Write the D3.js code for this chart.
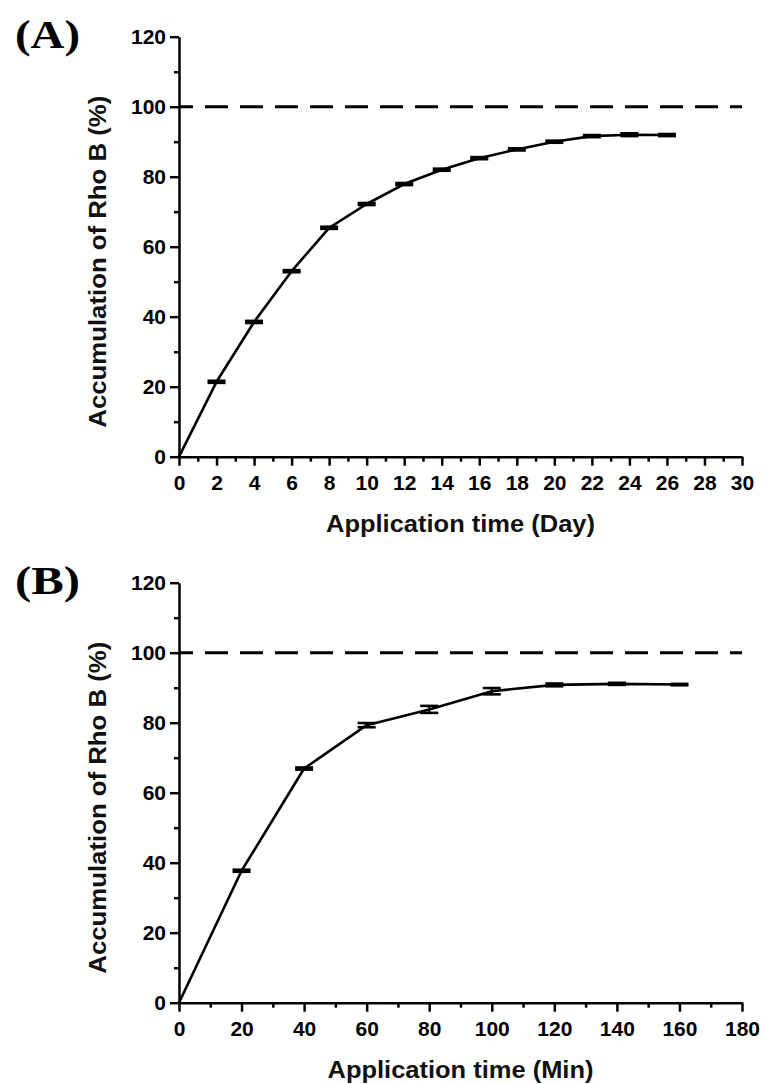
<!DOCTYPE html>
<html>
<head>
<meta charset="utf-8">
<script src="https://cdn.jsdelivr.net/npm/d3@7"></script>
<style>
  body { margin: 0; background: #fff; }
  .tick text { font-family: "Liberation Sans", Arial, sans-serif; font-weight: bold; font-size: 21px; fill: #000; }
  .axis-title { font-family: "Liberation Sans", Arial, sans-serif; font-weight: bold; font-size: 23px; fill: #111; }
  .panel-label { font-family: "Liberation Serif", "Times New Roman", serif; font-weight: bold; font-size: 41px; fill: #000; }
</style>
</head>
<body>
<div id="chart"></div>
<script>
// panel A: accumulation over days
const daysA = [0, 2, 4, 6, 8, 10, 12, 14, 16, 18, 20, 22, 24, 26];
const accumA = [0, 21.4, 38.5, 53, 65.4, 72.2, 77.9, 82, 85.3, 87.8, 90, 91.6, 92, 91.9];
const errA = [0, 0.3, 0.3, 0.3, 0.3, 0.3, 0.3, 0.3, 0.3, 0.3, 0.3, 0.3, 0.4, 0.3];
const xTicksA = [0, 2, 4, 6, 8, 10, 12, 14, 16, 18, 20, 22, 24, 26, 28, 30];

// panel B: accumulation over minutes
const minsB = [0, 20, 40, 60, 80, 100, 120, 140, 160];
const accumB = [0, 37.7, 66.9, 79.3, 83.8, 89.0, 90.8, 91.1, 90.9];
const errB = [0, 0.3, 0.3, 0.6, 1.0, 0.9, 0.4, 0.3, 0.2];
const xTicksB = [0, 20, 40, 60, 80, 100, 120, 140, 160, 180];

const yTicks = [0, 20, 40, 60, 80, 100, 120];
const refLevel = 100;

const width = 765, height = 1084;

const svg = d3.select("#chart")
  .append("svg")
  .attr("width", width)
  .attr("height", height);

function drawPanel(opts) {
  const g = svg.append("g").attr("transform", "translate(0," + opts.top + ")");

  const x = d3.scaleLinear().domain(opts.xDomain).range([179, 742]);
  const y = d3.scaleLinear().domain([0, 120]).range([456.7, 36.7]);

  const xMinor = d3.range(opts.xDomain[0], opts.xDomain[1] + 0.001, opts.xMinorStep)
    .filter((v) => !opts.xTicks.includes(v));
  const yMinor = d3.range(10, 120, 20);

  // minor ticks first, no labels
  g.append("g")
    .attr("transform", "translate(0," + y(0) + ")")
    .call(d3.axisBottom(x).tickValues(xMinor).tickSize(5).tickFormat("").tickSizeOuter(0))
    .call((a) => a.select(".domain").remove())
    .selectAll("line").attr("stroke-width", 2.5);

  g.append("g")
    .attr("transform", "translate(179,0)")
    .call(d3.axisLeft(y).tickValues(yMinor).tickSize(5).tickFormat("").tickSizeOuter(0))
    .call((a) => a.select(".domain").remove())
    .selectAll("line").attr("stroke-width", 2.5);

  // major axes
  const xAxis = g.append("g")
    .attr("transform", "translate(0," + y(0) + ")")
    .call(d3.axisBottom(x).tickValues(opts.xTicks).tickSize(9).tickPadding(9).tickSizeOuter(0));
  xAxis.select(".domain").attr("stroke-width", 2.5);
  xAxis.selectAll(".tick line").attr("stroke-width", 2.5);

  const yAxis = g.append("g")
    .attr("transform", "translate(179,0)")
    .call(d3.axisLeft(y).tickValues(yTicks).tickSize(9).tickPadding(4).tickSizeOuter(0));
  yAxis.select(".domain").attr("stroke-width", 2.5);
  yAxis.selectAll(".tick line").attr("stroke-width", 2.5);

  // 100% reference
  g.append("line")
    .attr("x1", x(opts.xDomain[0]))
    .attr("x2", x(opts.xDomain[1]))
    .attr("y1", y(refLevel))
    .attr("y2", y(refLevel))
    .attr("stroke", "#000")
    .attr("stroke-width", 3)
    .attr("stroke-dasharray", "23,12")
    .attr("stroke-dashoffset", 9);

  const pts = opts.xs.map((v, i) => ({ x: v, y: opts.ys[i], e: opts.errs[i] }));

  const line = d3.line().x((d) => x(d.x)).y((d) => y(d.y));
  g.append("path")
    .datum(pts)
    .attr("d", line)
    .attr("fill", "none")
    .attr("stroke", "#000")
    .attr("stroke-width", 2.6)
    .attr("stroke-linejoin", "round");

  // error bars with caps
  const bars = g.selectAll(".err")
    .data(pts.filter((d) => d.e > 0))
    .join("g")
    .attr("class", "err");
  const capW = 9;
  bars.append("line")
    .attr("x1", (d) => x(d.x)).attr("x2", (d) => x(d.x))
    .attr("y1", (d) => y(d.y - d.e)).attr("y2", (d) => y(d.y + d.e))
    .attr("stroke", "#000").attr("stroke-width", 2);
  bars.append("line")
    .attr("x1", (d) => x(d.x) - capW).attr("x2", (d) => x(d.x) + capW)
    .attr("y1", (d) => y(d.y + d.e)).attr("y2", (d) => y(d.y + d.e))
    .attr("stroke", "#000").attr("stroke-width", 2.6);
  bars.append("line")
    .attr("x1", (d) => x(d.x) - capW).attr("x2", (d) => x(d.x) + capW)
    .attr("y1", (d) => y(d.y - d.e)).attr("y2", (d) => y(d.y - d.e))
    .attr("stroke", "#000").attr("stroke-width", 2.6);

  // titles
  g.append("text")
    .attr("class", "axis-title")
    .attr("text-anchor", "middle")
    .attr("x", 460.5)
    .attr("y", 531.5)
    .attr("textLength", opts.xTitleLen)
    .attr("lengthAdjust", "spacingAndGlyphs")
    .text(opts.xTitle);

  g.append("text")
    .attr("class", "axis-title")
    .attr("text-anchor", "middle")
    .attr("transform", "translate(106," + ((y(0) + y(120)) / 2 + 15) + ") rotate(-90)")
    .attr("textLength", 332)
    .attr("lengthAdjust", "spacingAndGlyphs")
    .text("Accumulation of Rho B (%)");

  g.append("text")
    .attr("class", "panel-label")
    .attr("x", 15)
    .attr("y", 48)
    .attr("textLength", 65)
    .attr("lengthAdjust", "spacingAndGlyphs")
    .text(opts.label);
}

drawPanel({
  top: 0, label: "(A)", xDomain: [0, 30], xTicks: xTicksA, xMinorStep: 1,
  xs: daysA, ys: accumA, errs: errA,
  xTitle: "Application time (Day)", xTitleLen: 269
});

drawPanel({
  top: 546, label: "(B)", xDomain: [0, 180], xTicks: xTicksB, xMinorStep: 10,
  xs: minsB, ys: accumB, errs: errB,
  xTitle: "Application time (Min)", xTitleLen: 266
});
</script>
</body>
</html>
